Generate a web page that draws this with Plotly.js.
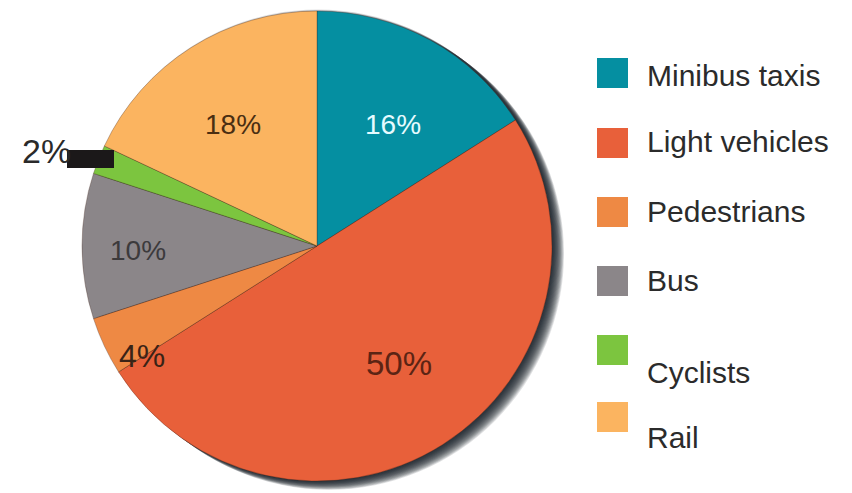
<!DOCTYPE html>
<html>
<head>
<meta charset="utf-8">
<script src="https://cdn.plot.ly/plotly-3.0.1.min.js"></script>
<style>html,body{margin:0;padding:0;background:#fff;}#chart{width:852px;height:493px;}</style>
</head>
<body>
<div id="chart"></div>
<script>
// ---- data ----
const categories = ["Minibus taxis", "Light vehicles", "Pedestrians", "Bus", "Cyclists", "Rail"];
const shares = [16, 50, 4, 10, 2, 18];
const sliceLabels = ["16%", "50%", "4%", "10%", "2%", "18%"];
const colors = ["#058fa1", "#e8603a", "#ee8944", "#8b8689", "#7cc53f", "#fbb460"];

// ---- styles / placement (not data) ----
const textColors = ["#e6fbff", "#5b2414", "#3a2316", "#3c3a3c", "#2a2a2a", "#4a2e12"];
const labelSizes = [28, 33, 32, 28, 34, 28];
const labelRadius = [0.61, 0.61, 0.88, 0.76, 1.22, 0.63];   // fraction of pie radius
const labelAngleShift = [3.3, -2.6, -7, -1.3, -2.3, -2.4];   // degrees

const W = 852, H = 493;
const px = x => x / W;
const py = y => 1 - y / H;
const cx = 317, cy = 246, R = 235;

const shapes = [];
const annotations = [];

// soft drop shadow behind the pie
for (let d = 16; d >= 1; d--) {
  shapes.push({
    type: "circle", xref: "paper", yref: "paper", layer: "below",
    x0: px(cx - R + d * 0.75), x1: px(cx + R + d * 0.75),
    y0: py(cy + R + d * 0.55), y1: py(cy - R + d * 0.55 - 2),
    fillcolor: "rgba(25,30,38,0.13)", line: {width: 0}
  });
}

// slice labels, placed from the pie's own angles
const total = shares.reduce((a, b) => a + b, 0);
let cum = 0;
shares.forEach((v, i) => {
  const mid = (cum + v / 2) / total * 360 + labelAngleShift[i];
  cum += v;
  const t = mid * Math.PI / 180;
  const r = labelRadius[i] * R;
  annotations.push({
    xref: "paper", yref: "paper",
    x: px(cx + r * Math.sin(t)), y: py(cy - r * Math.cos(t)),
    xanchor: "center", yanchor: "middle", showarrow: false,
    text: sliceLabels[i],
    font: {family: "Liberation Sans, Arial, sans-serif", size: labelSizes[i], color: textColors[i]}
  });
});

// leader marker for the small slice label
shapes.push({
  type: "rect", xref: "paper", yref: "paper",
  x0: px(67), x1: px(114), y0: py(168), y1: py(150),
  fillcolor: "#1b1819", line: {width: 0}
});

// legend (built from the category and colour arrays)
const legendSquareY = [58, 128, 197, 266, 335, 402];
const legendTextY = [76, 141, 211, 280, 372, 437];
categories.forEach((c, i) => {
  shapes.push({
    type: "rect", xref: "paper", yref: "paper",
    x0: px(597), x1: px(628), y0: py(legendSquareY[i] + 30), y1: py(legendSquareY[i]),
    fillcolor: colors[i], line: {width: 0}
  });
  annotations.push({
    xref: "paper", yref: "paper", x: px(645), y: py(legendTextY[i]),
    xanchor: "left", yanchor: "middle", showarrow: false, text: c,
    font: {family: "Liberation Sans, Arial, sans-serif", size: 30, color: "#2b2b2b"}
  });
});

const trace = {
  type: "pie",
  labels: categories,
  values: shares,
  textinfo: "none",
  sort: false,
  direction: "clockwise",
  rotation: 0,
  marker: {colors: colors, line: {width: 0.6, color: "rgba(60,30,20,0.5)"}},
  domain: {x: [px(cx - R), px(cx + R)], y: [py(cy + R), py(cy - R)]},
  hoverinfo: "label+percent",
  showlegend: false
};

const layout = {
  width: W, height: H,
  margin: {l: 0, r: 0, t: 0, b: 0},
  paper_bgcolor: "#ffffff",
  showlegend: false,
  shapes: shapes,
  annotations: annotations
};

Plotly.newPlot("chart", [trace], layout, {displayModeBar: false, staticPlot: true});
</script>
</body>
</html>
